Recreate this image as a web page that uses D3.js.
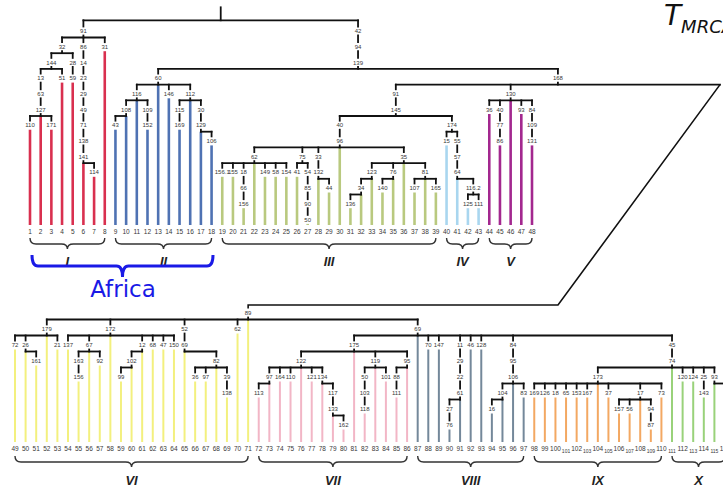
<!DOCTYPE html>
<html>
<head>
<meta charset="utf-8">
<style>
  body { margin: 0; background: #fff; }
  svg { display: block; font-family: Arial, "Liberation Sans", sans-serif; }
  .lab { font-size: 6.5px; fill: #383838; text-anchor: middle; }
  .node { font-size: 6px; }
</style>
</head>
<body>
<svg></svg>
<script src="https://d3js.org/d3.v7.min.js"></script>
<script>
// tree rows: internal node = [label, id, parent], leaf = [leafNumber, parent]
const backbone = [
  ["", "root", null],
  ["91", "n91a", "root"], ["42", "n42", "root"], ["94", "n94", "n42"],
  ["139", "n139", "n94"], ["60", "n60", "n139"], ["168", "n168", "n139"],
  ["91", "n91b", "n168"], ["145", "n145", "n91b"], ["130", "n130", "n168"],
  ["89", "n89", "n168"]
];
const cladeI = [
  ["32","a32","n91a"], ["86","a86","n91a"], ["31","a31","n91a"],
  ["144","a144","a32"], ["28","a28","a32"], ["13","a13","a144"], ["51","a51","a144"],
  ["63","a63","a13"], ["127","a127","a63"], ["110","a110","a127"], [2,"a127"], ["171","a171","a127"],
  [1,"a110"], [3,"a171"], [4,"a51"], ["59","a59","a28"], [5,"a59"],
  ["14","a14","a86"], ["23","a23","a14"], ["29","a29","a23"], ["49","a49","a29"],
  ["71","a71","a49"], ["138","a138","a71"], ["141","a141","a138"], [6,"a141"],
  ["114","a114","a141"], [7,"a114"], [8,"a31"]
];
const cladeII = [
  ["116","b116","n60"], [13,"n60"], ["146","b146","n60"], ["112","b112","n60"],
  ["108","b108","b116"], [11,"b116"], ["109","b109","b116"],
  ["43","b43","b108"], [9,"b43"], [10,"b108"], ["152","b152","b109"], [12,"b152"],
  [14,"b146"], ["115","b115","b112"], [16,"b112"], ["30","b30","b112"],
  ["169","b169","b115"], [15,"b169"], ["129","b129","b30"], [17,"b129"],
  ["106","b106","b129"], [18,"b106"]
];
const cladeIII = [
  ["40","c40","n145"], ["96","c96","c40"],
  ["62","c62","c96"], ["75","c75","c96"], ["33","c33","c96"], [30,"c96"], ["35","c35","c96"],
  ["156.1","c1561","c62"], [19,"c1561"], ["155","c155","c62"], [20,"c155"],
  ["18","c18","c62"], ["66","c66","c18"], ["156","c156","c66"], [21,"c156"], [22,"c62"],
  ["149","c149","c62"], [23,"c149"], ["58","c58","c62"], [24,"c58"], ["154","c154","c62"], [25,"c154"],
  ["41","c41","c75"], [26,"c41"], ["54","c54","c75"], ["85","c85","c54"], ["90","c90","c85"],
  ["50","c50","c90"], [27,"c50"],
  ["132","c132","c33"], [28,"c132"], ["44","c44","c132"], [29,"c44"],
  ["123","c123","c35"], ["76","c76","c35"], [36,"c35"], ["81","c81","c35"],
  ["34","c34","c123"], [33,"c123"], ["136","c136","c34"], [31,"c136"], [32,"c34"],
  ["140","c140","c76"], [34,"c140"], [35,"c76"],
  ["107","c107","c81"], [37,"c107"], [38,"c81"], ["165","c165","c81"], [39,"c165"]
];
const cladeIV = [
  ["174","d174","n145"], ["15","d15","d174"], [40,"d15"], ["55","d55","d174"],
  ["57","d57","d55"], ["64","d64","d57"], [41,"d64"], ["116.2","d1162","d64"],
  ["125","d125","d1162"], [42,"d125"], ["111","d111","d1162"], [43,"d111"]
];
const cladeV = [
  ["36","e36","n130"], [44,"e36"], ["40","e40","n130"], ["77","e77","e40"], ["86","e86","e77"], [45,"e86"],
  [46,"n130"], ["93","e93","n130"], [47,"e93"], ["84","e84","n130"], ["109","e109","e84"],
  ["131","e131","e109"], [48,"e131"]
];
const cladeVI = [
  ["179","f179","n89"], ["72","f72","f179"], [49,"f72"], ["26","f26","f179"], [50,"f26"],
  ["161","f161","f26"], [51,"f161"], [52,"f179"], ["21","f21","f179"], [53,"f21"],
  ["172","f172","n89"], ["137","f137","f172"], [54,"f137"], ["67","f67","f172"],
  ["163","f163","f67"], ["156","f156","f163"], [55,"f156"], [56,"f67"], ["92","f92","f67"], [57,"f92"],
  [58,"f172"], ["12","f12","f172"], ["102","f102","f12"], ["99","f99","f102"], [59,"f99"], [60,"f102"],
  [61,"f12"], ["68","f68","f172"], [62,"f68"], ["47","f47","f172"], [63,"f47"],
  ["150","f150","f172"], [64,"f150"],
  ["52","f52","n89"], ["69","f69","f52"], [65,"f69"], ["82","f82","f69"], ["36","f36","f82"], [66,"f36"],
  ["97","f97","f82"], [67,"f97"], [68,"f82"], ["39","f39","f82"], ["138","f138","f39"], [69,"f138"],
  ["62","f62","n89"], [70,"f62"], [71,"n89"]
];
const cladeVII = [
  ["69","g69","n89"], ["175","g175","g69"],
  ["122","g122","g175"], [81,"g175"], ["119","g119","g175"], ["95","g95","g175"],
  ["97","g97","g122"], ["113","g113","g97"], [72,"g113"], [73,"g97"], ["164","g164","g122"], [74,"g164"],
  ["110","g110","g122"], [75,"g110"], [76,"g122"], ["121","g121","g122"], [77,"g121"],
  ["134","g134","g122"], [78,"g134"], ["117","g117","g134"], ["133","g133","g117"], [79,"g133"],
  ["162","g162","g133"], [80,"g162"],
  ["50","g50","g119"], ["103","g103","g50"], ["118","g118","g103"], [82,"g118"], [83,"g119"],
  ["101","g101","g119"], [84,"g101"], ["88","g88","g95"], ["111","g111","g88"], [85,"g111"], [86,"g95"]
];
const cladeVIII = [
  [87,"g69"], ["70","h70","g69"], [88,"h70"], ["147","h147","g69"], [89,"h147"],
  ["11","h11","g69"], ["29","h29","h11"], ["22","h22","h29"], ["61","h61","h22"],
  ["27","h27","h61"], ["76","h76","h27"], [90,"h76"], [91,"h61"],
  ["46","h46","g69"], [92,"h46"], ["128","h128","g69"], [93,"h128"],
  ["84","h84","g69"], ["95","h95","h84"], ["106","h106","h95"], ["104","h104","h106"],
  ["16","h16","h104"], [94,"h16"], [95,"h104"], [96,"h106"], ["83","h83","h106"], [97,"h83"]
];
const cladeIX = [
  ["45","j45","g69"], ["74","j74","j45"], ["173","i173","j74"],
  ["169","i169","i173"], [98,"i169"], ["126","i126","i173"], [99,"i126"], ["18","i18","i173"], [100,"i18"],
  ["65","i65","i173"], [101,"i65"], ["153","i153","i173"], [102,"i153"], ["167","i167","i173"], [103,"i167"],
  [104,"i173"], ["37","i37","i173"], [105,"i37"], ["17","i17","i173"],
  ["157","i157","i17"], [106,"i157"], ["56","i56","i17"], [107,"i56"], [108,"i17"],
  ["94","i94","i17"], ["87","i87","i94"], [109,"i87"], ["73","i73","i173"], [110,"i73"]
];
const cladeX = [
  [111,"j74"], ["120","j120","j74"], [112,"j120"], ["124","j124","j74"], [113,"j124"],
  ["25","j25","j74"], ["143","j143","j25"], [114,"j143"], ["93","j93","j74"], [115,"j93"], [116,"j93"]
];

const cladeNames = ["I", "II", "III", "IV", "V", "VI", "VII", "VIII", "IX", "X"];
const cladeFirst = [1, 9, 19, 40, 44, 49, 72, 87, 98, 111];
const cladeLast  = [8, 18, 39, 43, 48, 71, 86, 97, 110, 116];
const cladeColors = ["#d9304f", "#4f72b3", "#b9c97f", "#a9d6ef", "#a3288f",
                     "#f3f07e", "#f2b6c6", "#74889a", "#f3a862", "#99d27a"];

const width = 723, height = 487;
const svg = d3.select("svg").attr("width", width).attr("height", height);

const rows = [].concat(backbone, cladeI, cladeII, cladeIII, cladeIV, cladeV,
                       cladeVI, cladeVII, cladeVIII, cladeIX, cladeX);
const table = rows.map(r => typeof r[0] === "number"
  ? {id: "L" + r[0], parent: r[1], label: String(r[0]), leaf: r[0]}
  : {id: r[1], parent: r[2], label: r[0]});

const root = d3.stratify().id(d => d.id).parentId(d => d.parent)(table);
const bottomRoot = root.find(d => d.id === "n89");
const inBottom = new Set(bottomRoot.descendants());

// scales
const xTop = d3.scaleLinear().domain([1, 48]).range([30, 532]);
const xBottom = d3.scaleLinear().domain([49, 116]).range([15, 725]);
const yTop = d3.scaleLinear().domain([1, 2]).range([31, 46.7]);
const yBottom = d3.scaleLinear().domain([5, 6]).range([313, 329]);
const leafEndTop = 225, leafEndBottom = 442;
const leafLabTop = 232, leafLabBottom = 449;
const joinX = 720, diagX = 558, lowY = 305;

const cladeIndex = n => cladeFirst.findIndex((f, i) => n >= f && n <= cladeLast[i]);
const isTopLeaf = n => n < 49;

root.eachAfter(n => {
  if (n.data.leaf) {
    n.x = isTopLeaf(n.data.leaf) ? xTop(n.data.leaf) : xBottom(n.data.leaf);
    return;
  }
  const leafKids = n.children.filter(c => c.data.leaf).sort((a, b) => a.x - b.x);
  if (leafKids.length) { n.x = leafKids[0].x; return; }
  const ext = d3.extent(n.children.map(c => c === bottomRoot ? joinX : c.x));
  n.x = (ext[0] + ext[1]) / 2;
});
root.each(n => {
  if (n.data.leaf) return;
  n.y = inBottom.has(n) ? yBottom(n.depth) : yTop(n.depth);
});

const colored = [], black = [];
const leafEnd = c => isTopLeaf(c.data.leaf) ? leafEndTop : leafEndBottom;
function toChild(c, x, y) {
  if (c.data.leaf) colored.push({x1: x, y1: y, x2: x, y2: leafEnd(c), leaf: c.data.leaf});
  else black.push({x1: x, y1: y, x2: x, y2: c.y - 4.5});
}
root.each(n => {
  if (!n.children) return;
  if (n.children.length === 1) { toChild(n.children[0], n.x, n.y + 4.5); return; }
  const barY = n === root ? n.y + 5 : n.y + 6.5;
  const xs = n.children.map(c => c === bottomRoot ? joinX : c.x);
  black.push({x1: d3.min(xs), y1: barY, x2: d3.max(xs), y2: barY});
  black.push({x1: n.x, y1: n === root ? n.y - 8 : n.y + 4.5, x2: n.x, y2: barY});
  n.children.forEach(c => { if (c !== bottomRoot) toChild(c, c.x, barY); });
});

// leaf lines
svg.append("g").selectAll("line").data(colored).join("line")
  .attr("x1", d => d.x1).attr("y1", d => d.y1).attr("x2", d => d.x2).attr("y2", d => d.y2)
  .attr("stroke", d => cladeColors[cladeIndex(d.leaf)])
  .attr("stroke-width", d => isTopLeaf(d.leaf) ? 2.6 : 2);

// black tree lines
svg.append("g").attr("stroke", "#111").attr("stroke-width", 1.8).attr("stroke-linecap", "square")
  .selectAll("line").data(black).join("line")
  .attr("x1", d => d.x1).attr("y1", d => d.y1).attr("x2", d => d.x2).attr("y2", d => d.y2);

// connection from node 168 down to the lower tree
const n168 = bottomRoot.parent;
svg.append("path")
  .attr("d", `M${joinX},${n168.y + 6.5}L${diagX},${lowY}H${bottomRoot.x}V${bottomRoot.y - 4.5}`)
  .attr("fill", "none").attr("stroke", "#111").attr("stroke-width", 1.6);

// node labels
const internal = root.descendants().filter(n => !n.data.leaf && n !== root);
svg.append("g").selectAll("text").data(internal).join("text")
  .attr("class", "lab node")
  .attr("x", d => d.x).attr("y", d => d.y).attr("dy", "0.35em")
  .text(d => d.data.label);

// leaf labels
const small = n => n > 100 && n % 2 === 1;
svg.append("g").selectAll("text").data(root.leaves()).join("text")
  .attr("class", "lab")
  .attr("x", d => d.x)
  .attr("y", d => (isTopLeaf(d.data.leaf) ? leafLabTop : leafLabBottom) + (small(d.data.leaf) ? 1.8 : 0))
  .attr("dy", "0.35em")
  .style("font-size", d => small(d.data.leaf) ? "5px" : null)
  .text(d => d.data.label);

// curly brace helper
function brace(x1, x2, y0, h1, h2) {
  const m = (x1 + x2) / 2, y1 = y0 + h1, r = Math.min(6, (x2 - x1) / 4);
  return `M${x1},${y0}Q${x1},${y1} ${x1 + r},${y1}H${m - r}Q${m},${y1} ${m},${y1 + h2}` +
         `Q${m},${y1} ${m + r},${y1}H${x2 - r}Q${x2},${y1} ${x2},${y0}`;
}

const cladeSpan = i => isTopLeaf(cladeFirst[i])
  ? [xTop(cladeFirst[i]), xTop(cladeLast[i])]
  : [xBottom(cladeFirst[i]), xBottom(cladeLast[i])];

const braces = svg.append("g");
cladeNames.forEach((name, i) => {
  const [x1, x2] = cladeSpan(i);
  const top = isTopLeaf(cladeFirst[i]);
  const y0 = top ? 238 : 456;
  braces.append("path").attr("d", brace(x1, x2, y0, 6, 5))
    .attr("fill", "none").attr("stroke", "#333").attr("stroke-width", 1.4);
  braces.append("text")
    .attr("x", (x1 + x2) / 2).attr("y", top ? 266 : 485)
    .attr("text-anchor", "middle")
    .style("font-size", "13px").style("font-style", "italic").style("font-weight", "bold")
    .style("fill", "#222")
    .text(name);
});

// Africa brace
svg.append("path").attr("d", brace(32, 213, 255, 11, 11))
  .attr("fill", "none").attr("stroke", "#1a1ae6").attr("stroke-width", 3);
svg.append("text").attr("x", 123).attr("y", 297).attr("text-anchor", "middle")
  .style("font-family", "'Comic Sans MS', 'DejaVu Sans', sans-serif")
  .style("font-size", "23px").style("fill", "#1a1ae6")
  .text("Africa");

// T_MRCA title
const title = svg.append("text").attr("x", 664).attr("y", 25)
  .style("font-family", "'Comic Sans MS', 'DejaVu Sans', sans-serif")
  .style("font-style", "italic").style("fill", "#111");
title.append("tspan").style("font-size", "28px").text("T");
title.append("tspan").attr("dy", 8).style("font-size", "18px").text("MRCA");
</script>
</body>
</html>
